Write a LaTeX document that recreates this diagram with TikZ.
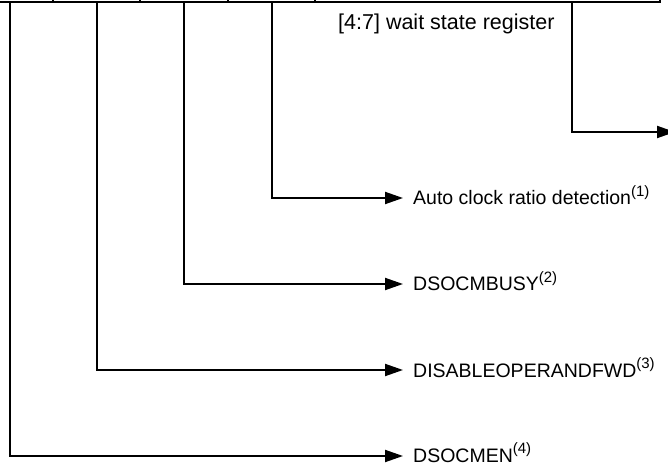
\documentclass[tikz,border=0pt]{standalone}
\usepackage{fontspec}
\setmainfont{Liberation Sans}
\usetikzlibrary{arrows.meta}
\newcommand{\fnref}[1]{\raisebox{0.42em}{\fontsize{15bp}{15bp}\selectfont(#1)}}
\begin{document}
\begin{tikzpicture}[x=1bp,y=-1bp,
  wire/.style={line width=2bp, line cap=rect},
  sig/.style={wire, -{Triangle[length=18bp,width=12bp]}},
  lbl/.style={anchor=base west, inner sep=0pt, font=\fontsize{19.5bp}{20bp}\selectfont},
  title/.style={anchor=base west, inner sep=0pt, font=\fontsize{21.5bp}{22bp}\selectfont}]
\useasboundingbox (0,0) rectangle (668,465);
\begin{scope}
\clip (0,0) rectangle (668,465);
% register box bottom edge and cell dividers
\draw[wire] (-5,2.5) -- (660,2.5) -- (660,-10);
\foreach \x in {53,140,228,315} \draw[wire] (\x,2.5) -- (\x,-10);
% bit tap points
\coordinate (b0) at (10,2.5);
\coordinate (b1) at (97,2.5);
\coordinate (b2) at (184,2.5);
\coordinate (b3) at (272,2.5);
\coordinate (b4) at (572,2.5);
\coordinate (out4) at (675,132);
\coordinate (t3) at (403,198);
\coordinate (t2) at (403,284);
\coordinate (t1) at (403,370);
\coordinate (t0) at (403,456);
\node[title] (reg) at (338,30) {[4:7] wait state register};
\node[lbl] (l3) at (413,205) {Auto clock ratio detection\fnref{1}};
\node[lbl] (l2) at (413,291) {DSOCMBUSY\fnref{2}};
\node[lbl] (l1) at (413,377) {DISABLEOPERANDFWD\fnref{3}};
\node[lbl] (l0) at (413,462) {DSOCMEN\fnref{4}};
\draw[sig] (b4) |- (out4);
\draw[sig] (b3) |- (t3);
\draw[sig] (b2) |- (t2);
\draw[sig] (b1) |- (t1);
\draw[sig] (b0) |- (t0);
\end{scope}
\end{tikzpicture}
\end{document}
